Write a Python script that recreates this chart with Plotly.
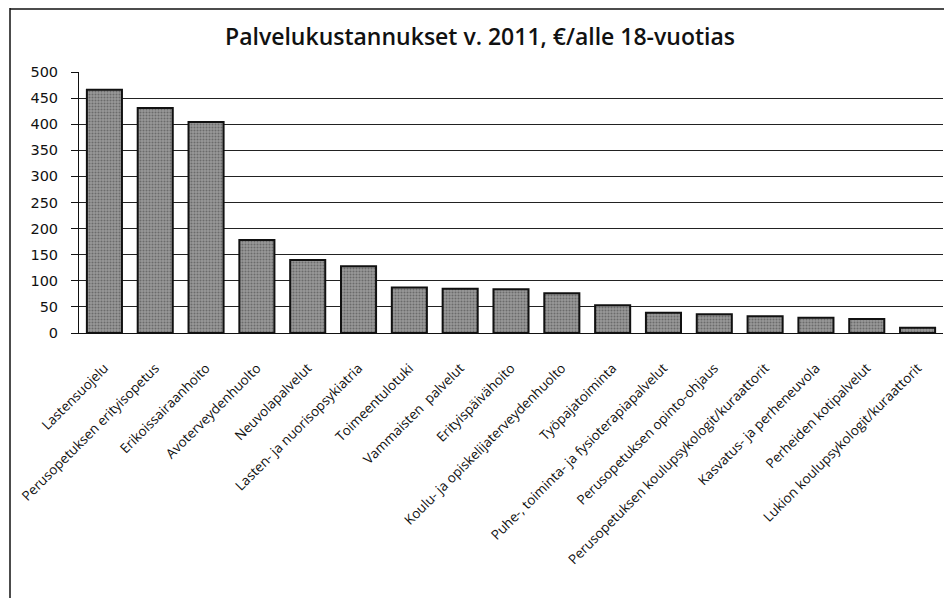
import plotly.graph_objects as go

categories = [
    "Lastensuojelu",
    "Perusopetuksen erityisopetus",
    "Erikoissairaanhoito",
    "Avoterveydenhuolto",
    "Neuvolapalvelut",
    "Lasten- ja nuorisopsykiatria",
    "Toimeentulotuki",
    "Vammaisten  palvelut",
    "Erityispäivähoito",
    "Koulu- ja opiskelijaterveydenhuolto",
    "Työpajatoiminta",
    "Puhe-, toiminta- ja fysioterapiapalvelut",
    "Perusopetuksen opinto-ohjaus",
    "Perusopetuksen koulupsykologit/kuraattorit",
    "Kasvatus- ja perheneuvola",
    "Perheiden kotipalvelut",
    "Lukion koulupsykologit/kuraattorit",
]
values = [466, 431, 404, 178, 140, 128, 87, 85, 84, 76, 53, 39, 36, 32, 29, 27, 10]
y_ticks = [0, 50, 100, 150, 200, 250, 300, 350, 400, 450, 500]

fig = go.Figure()
fig.add_trace(go.Bar(
    x=categories,
    y=values,
    marker=dict(
        color="#8a8a8a",
        line=dict(color="#111111", width=2),
        pattern=dict(shape=".", fgcolor="#3c3c3c", bgcolor="#9a9a9a", size=3, solidity=0.4),
    ),
))

fig.update_layout(
    width=944, height=590,
    paper_bgcolor="white", plot_bgcolor="white",
    margin=dict(l=71, r=9, t=64, b=265, autoexpand=False),
    bargap=0.31,
    showlegend=False,
    title=dict(
        text="Palvelukustannukset v. 2011, €/alle 18-vuotias",
        x=0.5, xanchor="center", y=1 - 29/590, yanchor="middle",
        font=dict(family="Open Sans, Lato, sans-serif", size=23, color="#111111", weight=600),
    ),
    xaxis=dict(
        automargin=False,
        tickangle=-45,
        tickfont=dict(family="Open Sans, Lato, sans-serif", size=13.5, color="#111111"),
        showline=True, linecolor="#111111", linewidth=1,
        ticks="", showgrid=False,
        ticklabelstandoff=21,
    ),
    yaxis=dict(
        automargin=False,
        range=[0, 500],
        tickvals=y_ticks,
        tickfont=dict(family="DejaVu Sans, Verdana, sans-serif", size=14.5, color="#111111"),
        showline=True, linecolor="#111111", linewidth=1,
        ticks="outside", ticklen=7, tickcolor="#111111",
        ticklabelstandoff=10,
        showgrid=True, gridcolor="#222222", gridwidth=1,
        zeroline=False,
    ),
    shapes=[
        dict(type="line", xref="paper", yref="paper",
             x0=-69/864, x1=-69/864, y0=-265/261, y1=1 + 64/261,
             line=dict(color="#111111", width=1.5)),
        dict(type="line", xref="paper", yref="paper",
             x0=-69/864, x1=1 + 9/864, y0=1 + 63/261, y1=1 + 63/261,
             line=dict(color="#111111", width=1.5)),
    ],
)

fig.write_html("out.html")
